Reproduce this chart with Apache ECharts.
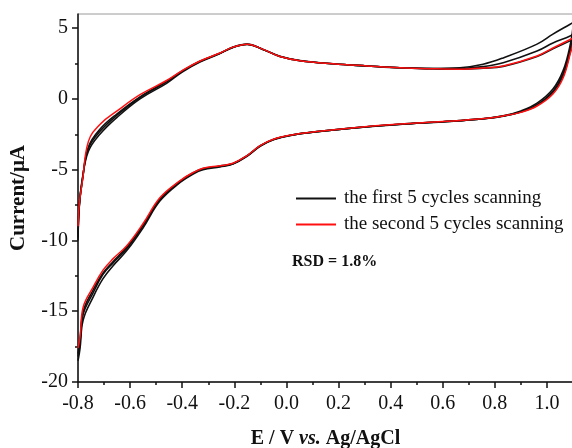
<!DOCTYPE html>
<html>
<head>
<meta charset="utf-8">
<script src="https://cdn.jsdelivr.net/npm/echarts@6/dist/echarts.min.js"></script>
<style>
  html, body { margin: 0; padding: 0; background: #fff; }
  #cv-chart { width: 572px; height: 448px; }
</style>
</head>
<body>
<div id="cv-chart"></div>
<script>
// potentials (V) of the cathodic branch, -0.8 -> 1.1
const lowerE = [-0.8, -0.792, -0.78, -0.742, -0.704, -0.666, -0.612, -0.55, -0.485, -0.408, -0.358, -0.32, -0.255, -0.205, -0.151, -0.101, -0.05, 0.025, 0.117, 0.25, 0.436, 0.6, 0.75, 0.832, 0.9, 0.962, 1.023, 1.062, 1.089, 1.1];
// potentials (V) of the return branch, 1.1 -> -0.8
const upperE = [1.1, 1.089, 1.023, 0.962, 0.832, 0.755, 0.666, 0.563, 0.436, 0.31, 0.179, 0.052, -0.025, -0.09, -0.151, -0.205, -0.255, -0.332, -0.4, -0.46, -0.562, -0.65, -0.716, -0.76, -0.783, -0.795, -0.8];

// first 5 cycles (black), three visibly separate traces
const firstA_low = [-18.5, -17.6, -15.6, -14.0, -12.7, -11.8, -10.7, -9.1, -7.2, -5.9, -5.3, -5.0, -4.8, -4.6, -4.05, -3.35, -2.88, -2.55, -2.32, -2.07, -1.8, -1.62, -1.42, -1.2, -0.85, -0.3, 0.7, 2.0, 3.8, 5.3];
const firstA_up = [5.4, 5.28, 4.58, 3.87, 2.9, 2.45, 2.2, 2.15, 2.2, 2.33, 2.48, 2.72, 3.02, 3.5, 3.85, 3.64, 3.2, 2.6, 1.9, 1.1, 0.0, -1.3, -2.5, -3.7, -5.6, -7.6, -10.0];
const firstB_low = [-18.2, -17.2, -15.2, -13.7, -12.4, -11.6, -10.55, -8.95, -7.1, -5.85, -5.25, -4.95, -4.76, -4.58, -4.02, -3.32, -2.86, -2.54, -2.31, -2.06, -1.79, -1.61, -1.41, -1.22, -0.9, -0.4, 0.55, 1.8, 3.5, 4.6];
const firstB_up = [4.6, 4.44, 3.95, 3.38, 2.55, 2.28, 2.15, 2.14, 2.2, 2.33, 2.48, 2.7, 3.0, 3.5, 3.86, 3.65, 3.22, 2.64, 1.95, 1.2, 0.1, -1.15, -2.3, -3.5, -5.7, -7.5, -9.8];
const firstC_low = [-18.0, -17.0, -15.0, -13.5, -12.3, -11.5, -10.45, -8.9, -7.05, -5.8, -5.22, -4.92, -4.74, -4.56, -4.01, -3.31, -2.86, -2.54, -2.31, -2.06, -1.79, -1.61, -1.41, -1.21, -0.93, -0.45, 0.45, 1.6, 3.3, 4.2];
const firstC_up = [4.2, 4.1, 3.55, 3.0, 2.3, 2.17, 2.1, 2.13, 2.2, 2.33, 2.48, 2.7, 3.0, 3.5, 3.87, 3.66, 3.23, 2.66, 1.97, 1.25, 0.15, -1.05, -2.15, -3.4, -5.7, -7.5, -9.5];

// second 5 cycles (red)
const second_low = [-17.6, -16.8, -14.7, -13.3, -12.1, -11.3, -10.35, -8.8, -6.97, -5.77, -5.2, -4.9, -4.72, -4.55, -4.0, -3.3, -2.85, -2.53, -2.3, -2.05, -1.78, -1.6, -1.4, -1.2, -0.95, -0.5, 0.35, 1.48, 3.17, 4.1];
const second_up = [4.3, 4.2, 3.6, 3.03, 2.32, 2.18, 2.1, 2.13, 2.2, 2.33, 2.48, 2.7, 3.0, 3.5, 3.87, 3.66, 3.24, 2.68, 2.0, 1.3, 0.3, -0.85, -1.8, -3.0, -5.8, -7.4, -9.0];

const xLabels = [-0.8, -0.6, -0.4, -0.2, 0.0, 0.2, 0.4, 0.6, 0.8, 1.0];
const xMinor = [-0.7, -0.5, -0.3, -0.1, 0.1, 0.3, 0.5, 0.7, 0.9];
const yLabels = [-20, -15, -10, -5, 0, 5];
const yMinor = [-17.5, -12.5, -7.5, -2.5, 2.5];

const nameFirst = "the first 5 cycles scanning";
const nameSecond = "the second 5 cycles scanning";

// join the two branches into one loop
function loop(low, up) {
  let pts = [];
  lowerE.forEach((e, i) => pts.push([e, low[i]]));
  upperE.forEach((e, i) => pts.push([e, up[i]]));
  return pts;
}

function cvSeries(name, data, color, width) {
  return {
    name: name,
    type: "line",
    data: data,
    smooth: 0.4,
    showSymbol: false,
    symbol: "none",
    lineStyle: { color: color, width: width },
    itemStyle: { color: color },
    xAxisIndex: 0,
    yAxisIndex: 0,
    z: 3,
  };
}

const serif = "'Liberation Serif', 'DejaVu Serif', serif";
const tickStyle = { color: "#111", width: 1.5 };

let myChart = echarts.init(document.getElementById("cv-chart"));
myChart.setOption({
  animation: false,
  backgroundColor: "#ffffff",
  grid: {
    left: 78, top: 14, right: -1, bottom: 66,
    outerBoundsMode: "none",
    show: true, borderColor: "#9a9a9a", borderWidth: 1,
  },
  legend: {
    data: [nameFirst, nameSecond],
    orient: "vertical",
    left: 291, top: 184,
    itemWidth: 40, itemHeight: 2, itemGap: 7,
    icon: "rect",
    textStyle: { fontFamily: serif, fontSize: 19, color: "#111", padding: [0, 0, 0, 3] },
  },
  graphic: [{
    type: "text", left: 292, top: 254,
    style: { text: "RSD = 1.8%", fontFamily: serif, fontSize: 16, fontWeight: "bold", fill: "#111" },
  }],
  xAxis: [{
    type: "value", min: -0.8, max: 1.1,
    name: "{b|E / V }{i|vs.}{b| Ag/AgCl}",
    nameLocation: "middle", nameGap: 47,
    nameTextStyle: {
      rich: {
        b: { fontFamily: serif, fontSize: 20, fontWeight: "bold", color: "#111" },
        i: { fontFamily: serif, fontSize: 20, fontWeight: "bold", fontStyle: "italic", color: "#111" },
      },
    },
    axisLine: { show: true, onZero: false, lineStyle: { color: "#111", width: 1.5 } },
    axisTick: { show: true, inside: false, length: 6, customValues: xLabels, lineStyle: tickStyle },
    axisLabel: { customValues: xLabels, margin: 12, fontFamily: serif, fontSize: 20, color: "#111",
      formatter: (v) => v.toFixed(1) },
    splitLine: { show: false },
  }, {
    type: "value", min: -0.8, max: 1.1, position: "bottom",
    axisLine: { show: false, onZero: false },
    axisTick: { show: true, inside: false, length: 3, customValues: xMinor, lineStyle: tickStyle },
    axisLabel: { show: false },
    splitLine: { show: false },
  }],
  yAxis: [{
    type: "value", min: -20, max: 6,
    name: "Current/μA",
    nameLocation: "middle", nameGap: 49, nameRotate: 90,
    nameTextStyle: { fontFamily: serif, fontSize: 21, fontWeight: "bold", color: "#111" },
    axisLine: { show: true, onZero: false, lineStyle: { color: "#111", width: 1.5 } },
    axisTick: { show: true, inside: false, length: 6, customValues: yLabels, lineStyle: tickStyle },
    axisLabel: { customValues: yLabels, margin: 10, fontFamily: serif, fontSize: 20, color: "#111" },
    splitLine: { show: false },
  }, {
    type: "value", min: -20, max: 6, position: "left",
    axisLine: { show: false, onZero: false },
    axisTick: { show: true, inside: false, length: 3, customValues: yMinor, lineStyle: tickStyle },
    axisLabel: { show: false },
    splitLine: { show: false },
  }],
  series: [
    cvSeries(nameFirst, loop(firstA_low, firstA_up), "#111111", 1.6),
    cvSeries(nameFirst, loop(firstB_low, firstB_up), "#111111", 1.6),
    cvSeries(nameFirst, loop(firstC_low, firstC_up), "#111111", 1.6),
    cvSeries(nameSecond, loop(second_low, second_up), "#ff1010", 1.5),
  ],
});
</script>
</body>
</html>
